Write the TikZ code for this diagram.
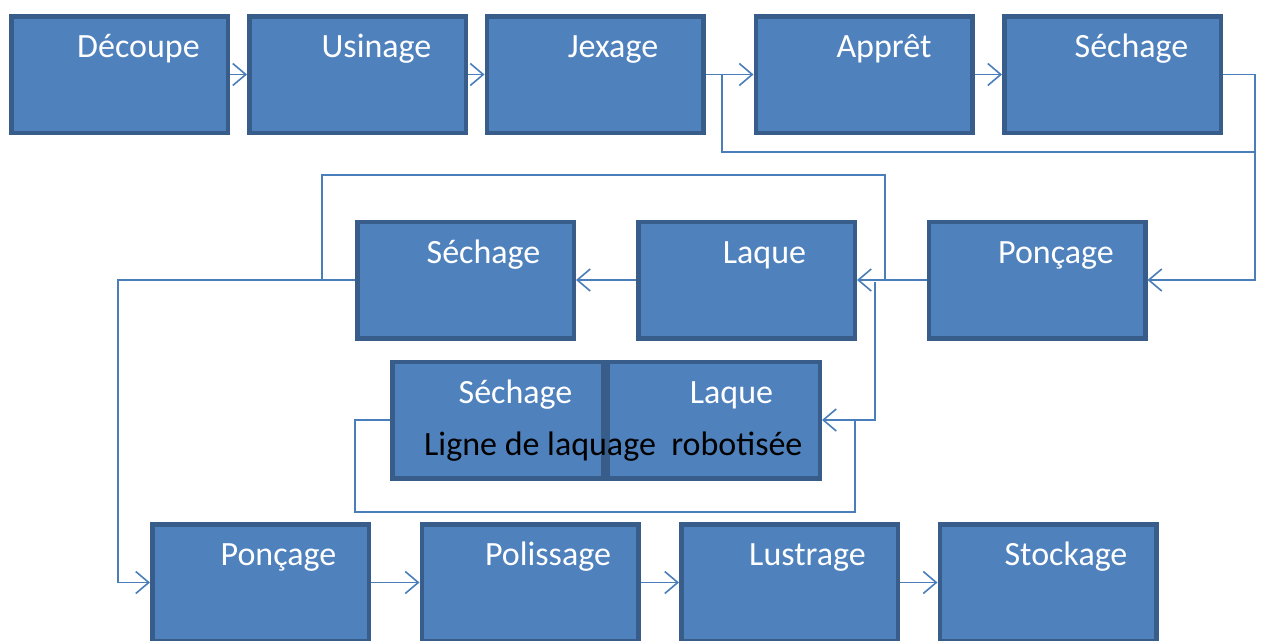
\documentclass[tikz,border=0pt]{standalone}
\usepackage{fontspec}
\setmainfont{Carlito}
\usetikzlibrary{arrows.meta,calc}
\definecolor{boxfill}{HTML}{4F81BD}
\definecolor{boxline}{HTML}{385D8A}
\definecolor{conn}{HTML}{4A7EBB}
\tikzset{
  box/.style={draw=boxline, fill=boxfill, line width=4.5pt, minimum width=216.5pt, minimum height=116.5pt, inner sep=0pt},
  lbl/.style={text=white, font=\fontsize{34}{38}\selectfont, inner sep=0pt, anchor=base},
  conline/.style={draw=conn, line width=1.6pt},
  arr/.style={conline, -{Straight Barb[length=13pt,width=22pt,line width=1.6pt]}}
}
\begin{document}
\begin{tikzpicture}[x=1pt,y=-1pt]
\useasboundingbox (0,0) rectangle (1261,640);
\clip (0,0) rectangle (1261,640);
% row 1
\node[box] (dec) at (119.5,74.5) {};
\node[box] (usi) at (357.5,74.5) {};
\node[box] (jex) at (595,74.5) {};
\node[box] (app) at (864,74.5) {};
\node[box] (sec1) at (1112.5,74.5) {};
\node[lbl] (tdec) at ($(dec.center)+(19,-17.5)$) {Découpe};
\node[lbl] (tusi) at ($(usi.center)+(19,-17.5)$) {Usinage};
\node[lbl] (tjex) at ($(jex.center)+(18,-17.5)$) {Jexage};
\node[lbl] (tapp) at ($(app.center)+(20,-17.5)$) {Apprêt};
\node[lbl] (tsec1) at ($(sec1.center)+(19,-17.5)$) {Séchage};
% row 2
\node[box] (sec2) at (465.5,280) {};
\node[box] (laq) at (746.5,280) {};
\node[box] (pon2) at (1037,280) {};
\node[lbl] (tsec2) at ($(sec2.center)+(18,-17)$) {Séchage};
\node[lbl] (tlaq) at ($(laq.center)+(18,-17)$) {Laque};
\node[lbl] (tpon2) at ($(pon2.center)+(19,-17)$) {Ponçage};
% robotic line
\node[box, minimum width=210.5pt] (rsec) at (497.5,420) {};
\node[box, minimum width=212.5pt] (rlaq) at (713.5,420) {};
\node[lbl] (trsec) at ($(rsec.center)+(18,-17)$) {Séchage};
\node[lbl] (trlaq) at ($(rlaq.center)+(18,-17)$) {Laque};
\node[lbl, text=black, anchor=base west] (tligne) at (424,455) {Ligne de laquage\ \ robotisée};
% row 3
\node[box] (pon3) at (260.5,582.5) {};
\node[box] (pol) at (530,582.5) {};
\node[box] (lus) at (789.5,582.5) {};
\node[box] (sto) at (1048,582.5) {};
\node[lbl] (tpon3) at ($(pon3.center)+(18,-17.5)$) {Ponçage};
\node[lbl] (tpol) at ($(pol.center)+(18,-17.5)$) {Polissage};
\node[lbl] (tlus) at ($(lus.center)+(18,-17.5)$) {Lustrage};
\node[lbl] (tsto) at ($(sto.center)+(18,-17.5)$) {Stockage};
% coordinates
\coordinate (rA) at (1255,74.5);
\coordinate (jA) at (722,74.5);
\coordinate (loop1) at (1255,152);
\coordinate (lt) at (885,175);
\coordinate (lTL) at (322,175);
\coordinate (lL) at (118,280);
\coordinate (vR) at (875,282);
\coordinate (bR) at (855,420);
\coordinate (bB) at (355,512);
% connectors row 1
\draw[arr] (dec.east) -- (usi.west);
\draw[arr] (usi.east) -- (jex.west);
\draw[arr] (jex.east) -- (app.west);
\draw[arr] (app.east) -- (sec1.west);
\draw[arr] (sec1.east) -- (rA) |- (pon2.east);
\draw[conline] (jA) |- (loop1);
% row 2
\draw[arr] (pon2.west) -- (laq.east);
\draw[arr] (laq.west) -- (sec2.east);
\draw[conline] (lt |- laq.east) -- (lt) -| (lTL) |- (sec2.west);
\draw[arr] (sec2.west) -| (lL) |- (pon3.west);
\draw[arr] (vR) |- (rlaq.east);
\draw[conline] (bR) |- (bB) |- (rsec.west);
% row 3
\draw[arr] (pon3.east) -- (pol.west);
\draw[arr] (pol.east) -- (lus.west);
\draw[arr] (lus.east) -- (sto.west);
\end{tikzpicture}
\end{document}
